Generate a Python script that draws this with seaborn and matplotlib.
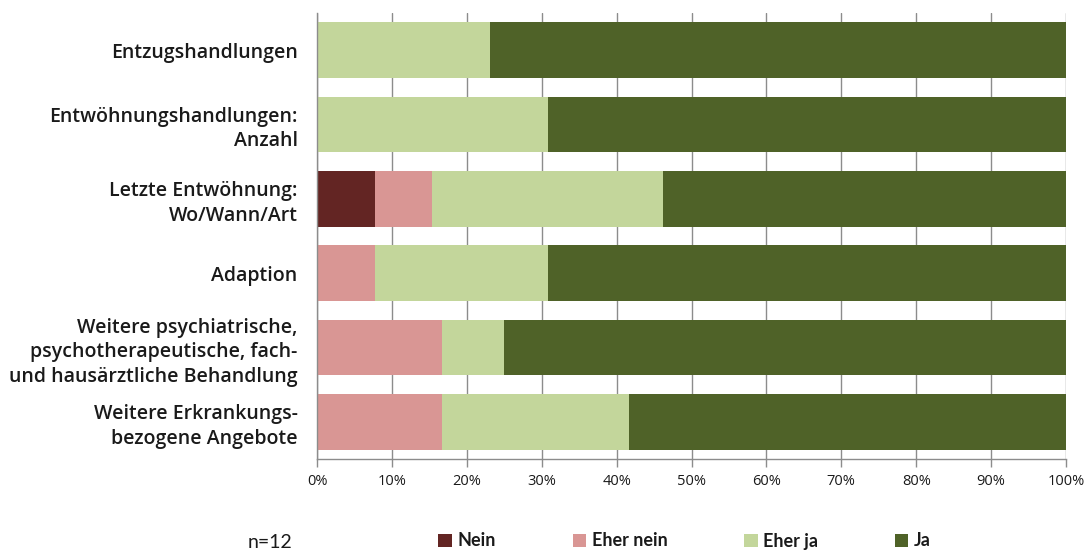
import matplotlib
matplotlib.use("Agg")
import matplotlib.pyplot as plt
import seaborn as sns
import numpy as np
import pandas as pd
from matplotlib.patches import Patch

# Answer shares (%) per topic
categories = [
    "Entzugshandlungen",
    "Entwöhnungshandlungen:\nAnzahl",
    "Letzte Entwöhnung:\nWo/Wann/Art",
    "Adaption",
    "Weitere psychiatrische,\npsychotherapeutische, fach-\nund hausärztliche Behandlung",
    "Weitere Erkrankungs-\nbezogene Angebote",
]
nein = [0.0, 0.0, 7.7, 0.0, 0.0, 0.0]
eher_nein = [0.0, 0.0, 7.7, 7.7, 16.7, 16.7]
eher_ja = [23.1, 30.8, 30.8, 23.1, 8.3, 25.0]
ja = [76.9, 69.2, 53.8, 69.2, 75.0, 58.3]

series_names = ["Nein", "Eher nein", "Eher ja", "Ja"]
series_colors = ["#632523", "#D99694", "#C3D69B", "#4F6228"]
tick_values = [0, 10, 20, 30, 40, 50, 60, 70, 80, 90, 100]
sample_note = "n=12"

sns.set_theme(style="white")
plt.rcParams["font.family"] = ["Open Sans", "DejaVu Sans"]

df = pd.DataFrame({
    "Thema": categories,
    "Nein": nein,
    "Eher nein": eher_nein,
    "Eher ja": eher_ja,
    "Ja": ja,
})

fig = plt.figure(figsize=(10.87, 5.51), dpi=100)
ax = fig.add_axes([317 / 1087, 1 - 459 / 551, (1066 - 317) / 1087, (459 - 13) / 551])

# stacked bars: draw cumulative totals from the back to the front
cum = df[series_names].cumsum(axis=1)
for name, color in reversed(list(zip(series_names, series_colors))):
    sns.barplot(data=cum.assign(Thema=df["Thema"]), x=name, y="Thema",
                orient="h", color=color, width=0.75, saturation=1,
                linewidth=0, ax=ax, zorder=2)

ax.set_xlim(0, 100)
ax.set_ylim(len(categories) - 0.5, -0.5)
ax.set_xticks(tick_values)
ax.set_xticklabels([f"{v}%" for v in tick_values])
ax.set_xlabel("")
ax.set_ylabel("")

# vertical gridlines
ax.grid(axis="x", color="#8c8c8c", linewidth=1.0, zorder=0)
ax.grid(axis="y", visible=False)
ax.set_axisbelow(True)

for side in ["top", "right"]:
    ax.spines[side].set_visible(False)
for side in ["left", "bottom"]:
    ax.spines[side].set_color("#8c8c8c")
    ax.spines[side].set_linewidth(1.0)

ax.tick_params(axis="x", which="both", bottom=True, length=6, width=1.0,
               color="#8c8c8c", pad=5, labelsize=10.5, labelcolor="#1a1a1a")
ax.tick_params(axis="y", left=False, pad=8)
for lbl in ax.get_yticklabels():
    lbl.set_fontsize(14)
    lbl.set_fontweight("semibold")
    lbl.set_color("#1a1a1a")
    lbl.set_linespacing(1.3)
    lbl.set_ha("right")
    lbl.set_multialignment("right")

# legend below the plot
handles = [Patch(facecolor=c, edgecolor="none", label=n)
           for n, c in zip(series_names, series_colors)]
fig.legend(handles=handles, loc="center", ncol=4, frameon=False,
           bbox_to_anchor=(684.5 / 1087, 1 - 541 / 551),
           prop={"family": "Lato", "weight": "bold", "size": 13},
           handlelength=0.75, handleheight=0.75, handletextpad=0.3,
           columnspacing=4.25, labelcolor="#1a1a1a")

fig.text(270 / 1087, 1 - 542 / 551, sample_note, ha="center", va="center",
         fontsize=14, family="Lato", color="#1a1a1a")

fig.savefig("out.png", dpi=100, facecolor="white")
